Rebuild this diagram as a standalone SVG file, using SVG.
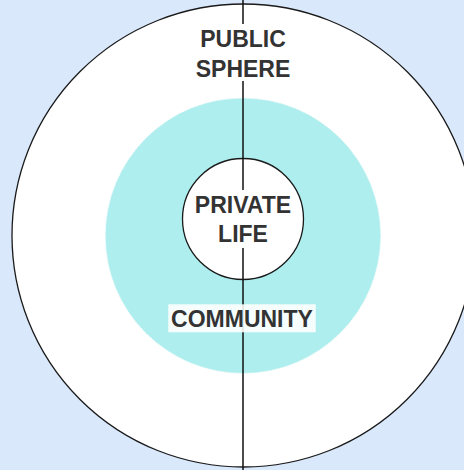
<svg xmlns="http://www.w3.org/2000/svg" width="464" height="470" viewBox="0 0 464 470">
<style>
.lbl{font-family:"Liberation Sans",Arial,sans-serif;font-weight:bold;font-size:23px;fill:#333333;text-anchor:middle}
.ring{stroke:#1a1a1a;stroke-width:1.3}
</style>
<rect x="0" y="0" width="464" height="470" fill="#dae8fc"/>
<g id="public-sphere">
<circle class="ring" cx="243.5" cy="235.5" r="231.5" fill="#ffffff"/>
</g>
<g id="community">
<circle cx="243" cy="235.7" r="137.3" fill="#afeeee" stroke="#afeeee" stroke-width="1" stroke-dasharray="1 1"/>
</g>
<g id="private-life">
<circle class="ring" cx="243" cy="219" r="60.5" fill="#ffffff"/>
</g>
<g id="connectors">
<line x1="243" y1="0" x2="243" y2="470" stroke="#111111" stroke-width="1.5"/>
</g>
<g id="labels">
<g id="label-public">
<rect x="190" y="24" width="106" height="57" fill="#ffffff"/>
<text class="lbl" x="243" y="46.7">PUBLIC</text>
<text class="lbl" x="243" y="76.7">SPHERE</text>
</g>
<g id="label-private">
<rect x="192" y="190" width="102" height="58" fill="#ffffff"/>
<text class="lbl" x="243" y="212.7">PRIVATE</text>
<text class="lbl" x="243" y="241.7">LIFE</text>
</g>
<g id="label-community">
<rect x="168.3" y="304.3" width="147.4" height="28" fill="#ffffff" fill-opacity="0.88"/>
<text class="lbl" x="242" y="326.5">COMMUNITY</text>
</g>
</g>
</svg>
